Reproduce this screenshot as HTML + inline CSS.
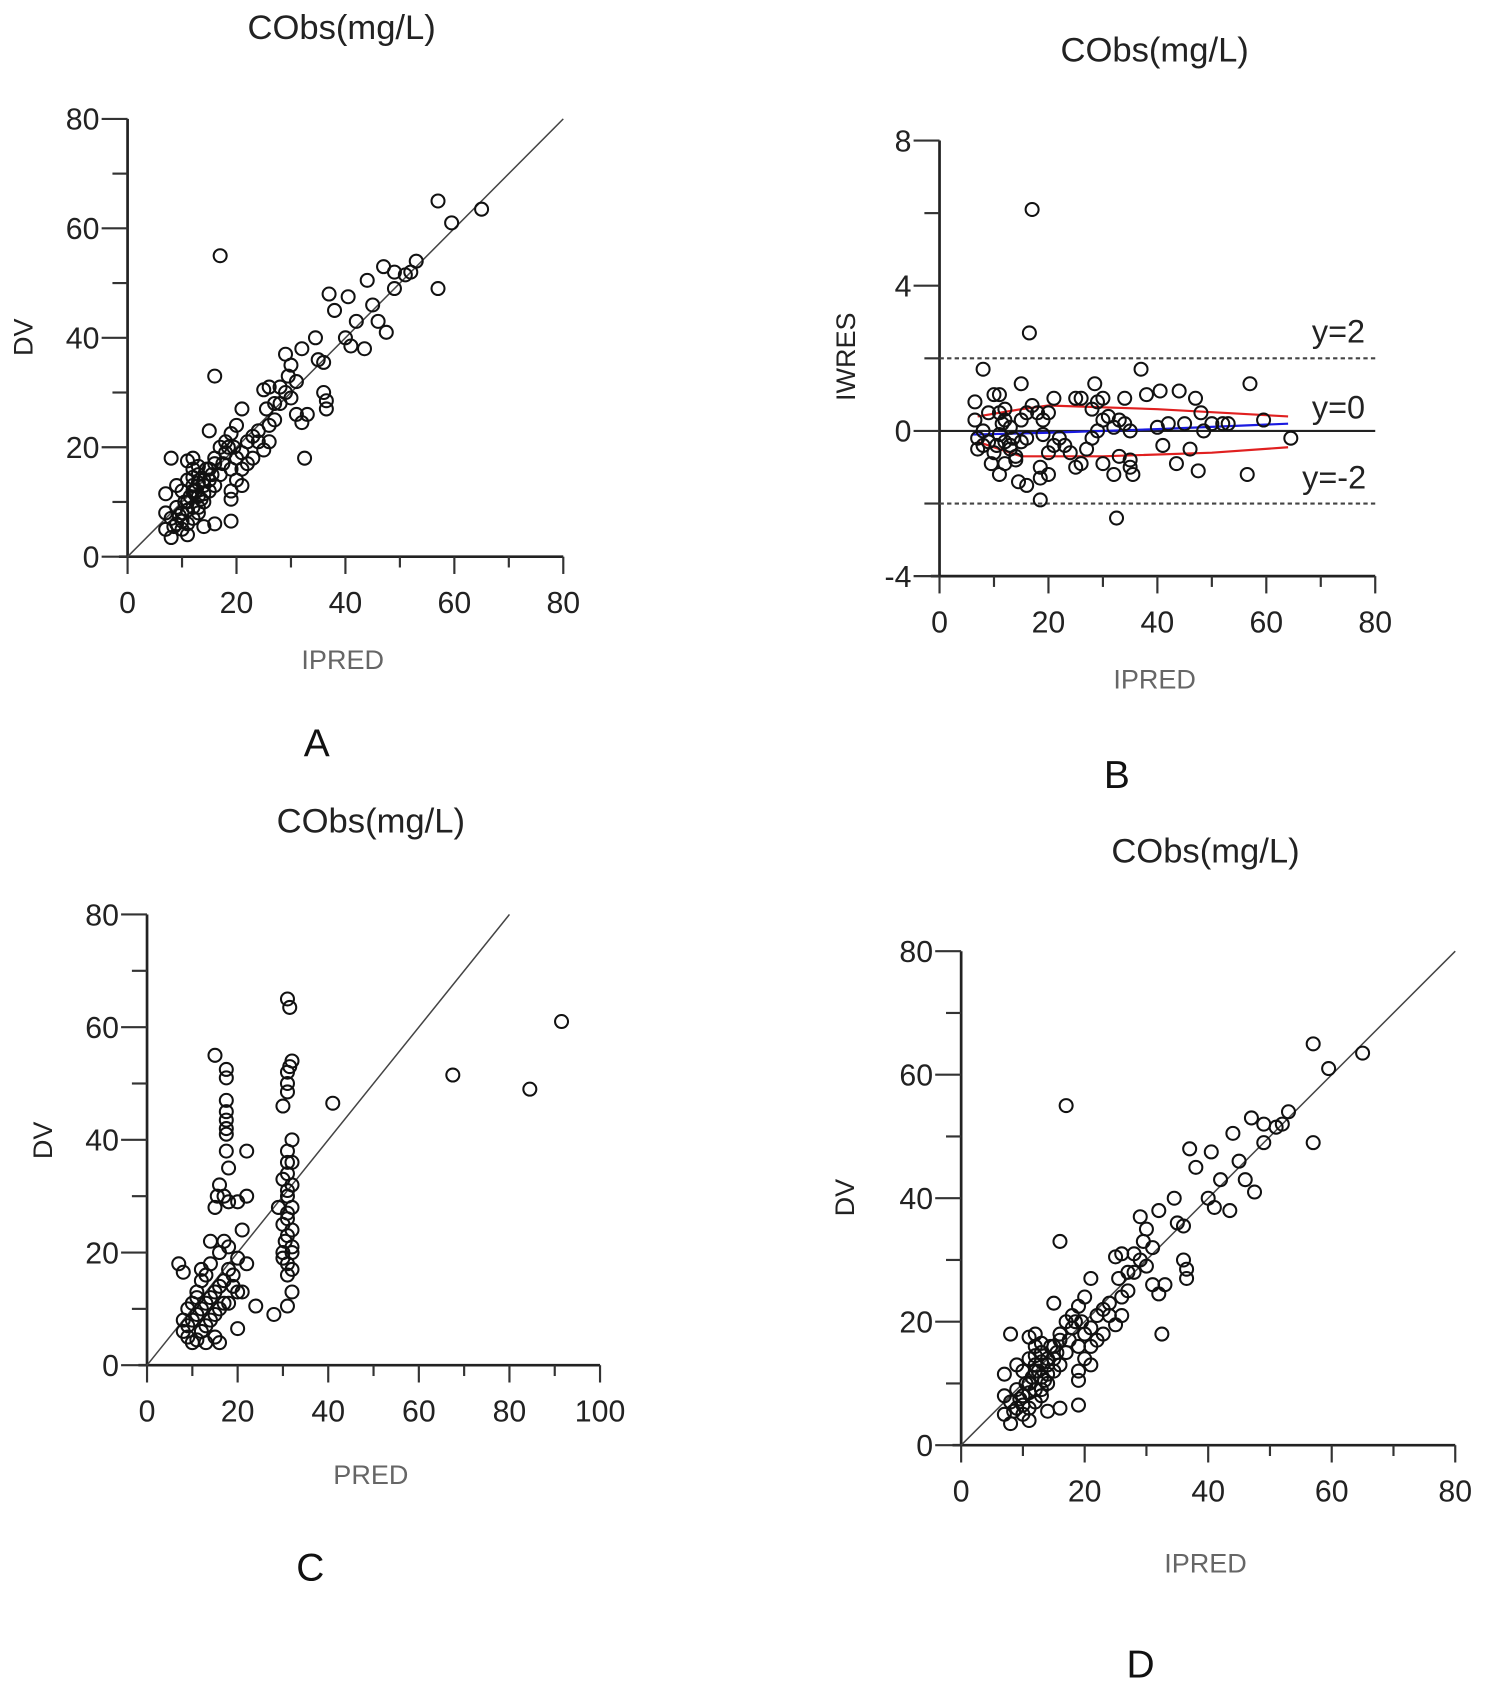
<!DOCTYPE html>
<html><head><meta charset="utf-8"><style>
html,body{margin:0;padding:0;background:#fff;}
svg{display:block;}
text{font-family:"Liberation Sans",sans-serif;}
</style></head><body>
<svg id="fig" width="1492" height="1683" viewBox="0 0 1380 1557" preserveAspectRatio="none" xmlns="http://www.w3.org/2000/svg">
<rect width="1380" height="1557" fill="#fff"/>
</svg>
<script>
// Panel A & D: DV vs IPRED
const ipredA=[17,16,57,59.5,65,57,47,44,49,51,52,53,49,45,46,47.5,42,43.5,40,41,40.5,38,37,35,36,34.5,32,29,30,29.5,31,28,27,29,30,31,32,33,36,36.5,36.5,32.5,25,26,25.5,24,23,25,26,21,20,19,19.5,20,21,18,17,16,15,19,20,21,19,19,19,16,14,15,14,13,12,11,8,9,7,7,7,8,9,10,11,12,13,12,11,10,13,14,12,11,10,15,16,17,22,23,27,28,12,13,14,15,11,9,8,16,18,22,24,21,26,13,12,10.5,11.5,12.5,13.5,11,12,13,14,10,9.5,8.5,14.5,15.5,17.5,18.5];
const dvA=[55,33,65,61,63.5,49,53,50.5,52,51.5,52,54,49,46,43,41,43,38,40,38.5,47.5,45,48,36,35.5,40,38,37,35,33,32,28,25,30,29,26,24.5,26,30,28.5,27,18,30.5,31,27,21,18,19.5,21,27,24,22.5,20,18,19,21,20,18,23,16,14,13,12,10.5,6.5,6,5.5,12,14,15,16,17.5,18,13,11.5,8,5,3.5,6,8,10,12,9,7,4,5,11,10,13,14,12,16,17,15,21,22,28,31,9,8,13,14,6,9,7,13,19,17,23,16,24,16.5,18,10,11,12,10.5,8.5,14.5,13.5,11.5,6.5,7.5,5.5,16,15,17,20];
// Panel B: IWRES vs IPRED
const ipredB=[17,16.5,8,37,57,15,28.5,59.5,64.5,56.5,47.5,43.5,46,41,32.5,18.5,16,14.5,18.5,18.5,20,11,9.5,35.5,35,32,30,33,35,26,25,24,27,6.5,6.5,7,7,8,9,10,11,11,12,12,13,13,14,15,16,17,18,19,20,21,22,23,25,26,28,29,30,31,32,33,34,35,38,40,40.5,42,44,45,47,48,48.5,50,52,53,34,30,29,28,21,19,15,14,12,10,8,9,11,13,16,20,12,11.5,13.5,10.5];
const iwresB=[6.1,2.7,1.7,1.7,1.3,1.3,1.3,0.3,-0.2,-1.2,-1.1,-0.9,-0.5,-0.4,-2.4,-1.9,-1.5,-1.4,-1,-1.3,-1.2,-1.2,-0.9,-1.2,-1,-1.2,-0.9,-0.7,-0.8,-0.9,-1,-0.6,-0.5,0.8,0.3,-0.2,-0.5,-0.4,0.5,1,1,0.5,0.3,-0.3,-0.5,0.1,-0.7,0.3,0.5,0.7,0.5,0.3,0.5,0.9,-0.2,-0.4,0.9,0.9,0.6,0.8,0.3,0.4,0.1,0.3,0.2,0,1,0.1,1.1,0.2,1.1,0.2,0.9,0.5,0,0.2,0.2,0.2,0.9,0.9,0,-0.2,-0.4,-0.1,-0.3,-0.8,-0.9,-0.6,0,-0.3,-0.1,-0.4,-0.2,-0.6,0.6,0.2,-0.2,-0.4];
const upperX=[7,15,20,40,64],upperY=[0.4,0.6,0.7,0.6,0.4];
const lowerX=[7,15,30,50,64],lowerY=[-0.3,-0.7,-0.7,-0.6,-0.45];
const trendX=[6,20,40,64],trendY=[-0.1,-0.05,0.05,0.2];
// Panel C: DV vs PRED
const predC=[15,17.5,17.5,17.5,17.5,17.5,17.5,17.5,17.5,18,16,17,15,15.5,18,22,20,22,21,14,17,18,29,30,31,31,31.5,32,31,31.5,31,32,31,31,31,32,31,32,31,30,31,32,30,31,32,31,31,28,32,30.5,32,31,30,32,31,30,32,20,24,21,22,20,19,18,17,16,15,14,13,12,11,10,9,8,8,9,10,11,12,13,14,15,16,17,12,11,13,14,16,7,8,12,19,18,20,15,16,13,10,9,11,67.5,84.5,91.5,41];
const dvC=[55,52.5,51,47,45,43.5,42,41,38,35,32,30,28,30,29,38,29,30,24,22,22,21,28,46,50,52,53,54,48.5,63.5,65,40,38,36,34,32,30,28,26,25,23,21,20,18,17,16,10.5,9,20,22,24,27,33,36,31,19,13,6.5,10.5,13,18,19,16,17,15,14,13,12,11,10,9,8,7,6,8,5,4,4.5,6,7,8,9,10,11,15,13,16,18,20,18,16.5,17,14,11,13,5,4,4,11,10,12,51.5,49,61,46.5];

const svg=document.getElementById('fig');
const NS='http://www.w3.org/2000/svg';
function mk(tag,attrs,parent){const e=document.createElementNS(NS,tag);for(const k in attrs)e.setAttribute(k,attrs[k]);(parent||svg).appendChild(e);return e;}
function txt(s,x,y,size,fill,parent,anchor,rot){const t=mk('text',{x:x,y:y,'font-size':size,fill:fill,'text-anchor':anchor||'middle'},parent);if(rot)t.setAttribute('transform','rotate(-90 '+x+' '+y+')');t.textContent=s;return t;}

function panel(p){
  const g=mk('g',{});
  
  
  const sx=v=>p.x0+(v-p.xmin)/(p.xmax-p.xmin)*(p.x1-p.x0);
  const sy=v=>p.y0+(v-p.ymin)/(p.ymax-p.ymin)*(p.y1-p.y0);
  const ax=mk('line',{x1:p.x0,y1:sy(p.ymin)+1,x2:p.x0,y2:sy(p.ymax),stroke:'#222','stroke-width':2.5},g);
  
  
  const axx=mk('line',{x1:p.x0-8,y1:sy(p.xAxisAt),x2:sx(p.xmax),y2:sy(p.xAxisAt),stroke:'#222','stroke-width':2.5},g);
  
  
  for(let v=p.ymin;v<=p.ymax+1e-9;v+=p.yminor){
    const major=Math.abs((v-p.ymin)/p.ystep-Math.round((v-p.ymin)/p.ystep))<1e-6;
    mk('line',{x1:p.x0-(major?24:14),y1:sy(v),x2:p.x0,y2:sy(v),stroke:'#333','stroke-width':2},g);
    if(major){const t=txt(String(v),p.x0-26,sy(v)+10,28,'#222',g,'end');}
  }
  for(let v=p.xmin;v<=p.xmax+1e-9;v+=p.xminor){
    const major=Math.abs(v/p.xstep-Math.round(v/p.xstep))<1e-6;
    mk('line',{x1:sx(v),y1:sy(p.xAxisAt),x2:sx(v),y2:sy(p.xAxisAt)+(major?16:10),stroke:'#333','stroke-width':2},g);
    if(major){const t=txt(String(v),sx(v),sy(p.xAxisAt)+52,28,'#222',g);}
  }
  if(p.identity){const l=mk('line',{x1:sx(0),y1:sy(0),x2:sx(p.identity),y2:sy(p.identity),stroke:'#444','stroke-width':1.4},g);}
  if(p.extra)p.extra(g,sx,sy);
  for(let i=0;i<p.xs.length;i++){
    const c=mk('circle',{cx:sx(p.xs[i]),cy:sy(p.ys[i]),r:6,fill:'none',stroke:'#111','stroke-width':1.9},g);
    
    
  }
  const t1=txt('CObs(mg/L)',p.tx,p.ty,32,'#222',g);
  const t2=txt(p.xlabel,p.xlx,p.xly,25,'#666',g);
  const t3=txt(p.ylabel,p.ylx,p.yly,25,'#222',g,'middle',true);
  const t4=txt(p.letter,p.lx,p.ly,36,'#111',g);
}

panel({name:'panel-a',x0:118,x1:521,y0:515,y1:110,xmin:0,xmax:80,ymin:0,ymax:80,xstep:20,xminor:10,ystep:20,yminor:10,xAxisAt:0,identity:80,
  xs:ipredA,ys:dvA,tx:316,ty:36,xlabel:'IPRED',xlx:317,xly:619,ylabel:'DV',ylx:30,yly:312,letter:'A',lx:293,ly:700});
panel({name:'panel-b',x0:869,x1:1272,y0:533,y1:130,xmin:0,xmax:80,ymin:-4,ymax:8,xstep:20,xminor:10,ystep:4,yminor:2,xAxisAt:-4,
  xs:ipredB,ys:iwresB,tx:1068,ty:57,xlabel:'IPRED',xlx:1068,xly:637,ylabel:'IWRES',ylx:791,yly:330,letter:'B',lx:1033,ly:729,
  extra:function(g,sx,sy){
    const z=mk('line',{x1:sx(0),y1:sy(0),x2:sx(80),y2:sy(0),stroke:'#222','stroke-width':2},g);
    [2,-2].forEach(v=>{const d=mk('line',{x1:sx(0),y1:sy(v),x2:sx(80),y2:sy(v),stroke:'#444','stroke-width':2,'stroke-dasharray':'4,3'},g);});
    const poly=(X,Y,col,nm)=>{const pl=mk('polyline',{points:X.map((x,i)=>sx(x)+','+sy(Y[i])).join(' '),fill:'none',stroke:col,'stroke-width':2},g);};
    poly(upperX,upperY,'#e02020','upper-band');poly(lowerX,lowerY,'#e02020','lower-band');poly(trendX,trendY,'#1a1ae0','trend-line');
    [['y=2',1238,317],['y=0',1238,387],['y=-2',1234,452]].forEach(a=>{const t=txt(a[0],a[1],a[2],30,'#222',g);});
  }});
panel({name:'panel-c',x0:136,x1:555,y0:1263,y1:846,xmin:0,xmax:100,ymin:0,ymax:80,xstep:20,xminor:10,ystep:20,yminor:10,xAxisAt:0,identity:80,
  xs:predC,ys:dvC,tx:343,ty:770,xlabel:'PRED',xlx:343,xly:1373,ylabel:'DV',ylx:48,yly:1055,letter:'C',lx:287,ly:1462});
panel({name:'panel-d',x0:889,x1:1346,y0:1337,y1:880,xmin:0,xmax:80,ymin:0,ymax:80,xstep:20,xminor:10,ystep:20,yminor:10,xAxisAt:0,identity:80,
  xs:ipredA,ys:dvA,tx:1115,ty:798,xlabel:'IPRED',xlx:1115,xly:1455,ylabel:'DV',ylx:790,yly:1108,letter:'D',lx:1055,ly:1552});
</script>
</body></html>
